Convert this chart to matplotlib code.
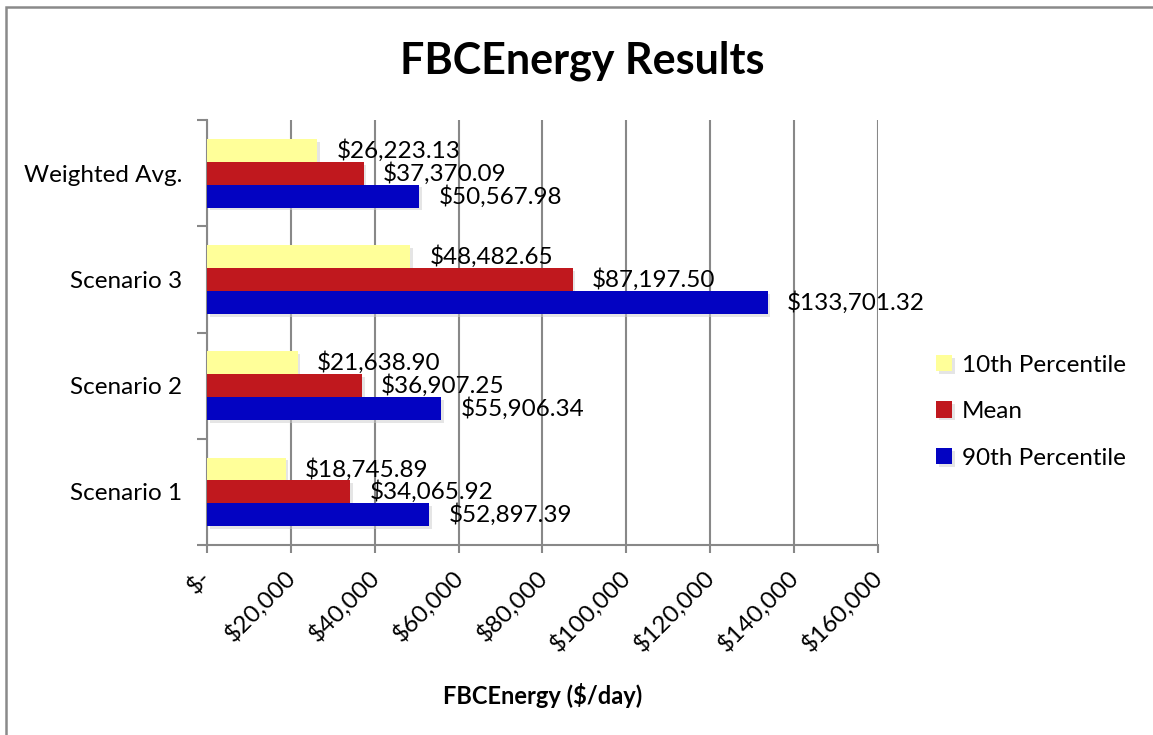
import matplotlib.pyplot as plt
import matplotlib.patheffects as pe
import matplotlib.transforms as mtransforms
from matplotlib.patches import Rectangle
import numpy as np

plt.rcParams['font.family'] = ['Lato', 'DejaVu Sans']

categories = ["Scenario 1", "Scenario 2", "Scenario 3", "Weighted Avg."]
p10 = [18745.89, 21638.90, 48482.65, 26223.13]
mean = [34065.92, 36907.25, 87197.50, 37370.09]
p90 = [52897.39, 55906.34, 133701.32, 50567.98]
series_names = ["10th Percentile", "Mean", "90th Percentile"]
colors = ["#FFFF99", "#C0181E", "#0303C2"]
xticks = [0, 20000, 40000, 60000, 80000, 100000, 120000, 140000, 160000]
xticklabels = ["$-", "$20,000", "$40,000", "$60,000", "$80,000",
               "$100,000", "$120,000", "$140,000", "$160,000"]

fig = plt.figure(figsize=(11.53, 7.35), dpi=100)
ax = fig.add_axes([0.1795, 0.2585, 0.582, 0.578])

# outer chart border (only top and left visible in the original)
fig.patches.append(Rectangle((6 / 1153, -0.2), 1.3, 1.2 - 7 / 735, transform=fig.transFigure,
                             fill=False, edgecolor="#8a8a8a", lw=1.8))

y = np.arange(len(categories))
h = 0.215
offsets = [h, 0, -h]
shadow = [pe.SimplePatchShadow(offset=(2, -2), shadow_rgbFace="#cccccc", alpha=0.5), pe.Normal()]
for vals, off, col, name in zip([p10, mean, p90], offsets, colors, series_names):
    bars = ax.barh(y + off, vals, height=h, color=col, label=name, zorder=3)
    for b in bars:
        b.set_path_effects(shadow)
    for yy, v in zip(y + off, vals):
        ax.annotate("${:,.2f}".format(v), (v, yy), xytext=(14, 0), textcoords="offset points",
                    va="center", ha="left", fontsize=17.5, zorder=4)

ax.set_xlim(0, 160000)
ax.set_ylim(-0.5, 3.5)
ax.set_xticks(xticks)
ax.set_xticklabels(xticklabels, rotation=45, ha="right", va="top", rotation_mode="anchor", fontsize=17.5)
ax.tick_params(axis="x", length=6, color="#888888", width=1.5, pad=9)
shift = mtransforms.ScaledTranslation(-7 / 100, 0, fig.dpi_scale_trans)
for lab in ax.get_xticklabels():
    lab.set_transform(lab.get_transform() + shift)
ax.set_yticks(y)
ax.set_yticklabels(categories, fontsize=17.5)
ax.tick_params(axis="y", which="major", length=0, pad=18)
ax.set_yticks(np.arange(-0.5, 4, 1), minor=True)
ax.tick_params(axis="y", which="minor", length=7, color="#888888", width=1.5)

ax.grid(axis="x", color="#888888", lw=1.5, zorder=0)
for s in ["top", "right"]:
    ax.spines[s].set_visible(False)
for s in ["left", "bottom"]:
    ax.spines[s].set_color("#888888")
    ax.spines[s].set_linewidth(1.5)

ax.set_xlabel("FBCEnergy ($/day)", fontsize=17, fontweight="bold", labelpad=20)
fig.text(0.505, 0.918, "FBCEnergy Results", ha="center", va="center", fontsize=31, fontweight="bold")

ax.legend(loc="center left", bbox_to_anchor=(0.812, 0.44), bbox_transform=fig.transFigure,
          frameon=False, fontsize=17.5, handlelength=0.65, handleheight=0.65,
          handletextpad=0.4, labelspacing=1.05, borderpad=0, borderaxespad=0)

fig.savefig("out.png", dpi=100)
